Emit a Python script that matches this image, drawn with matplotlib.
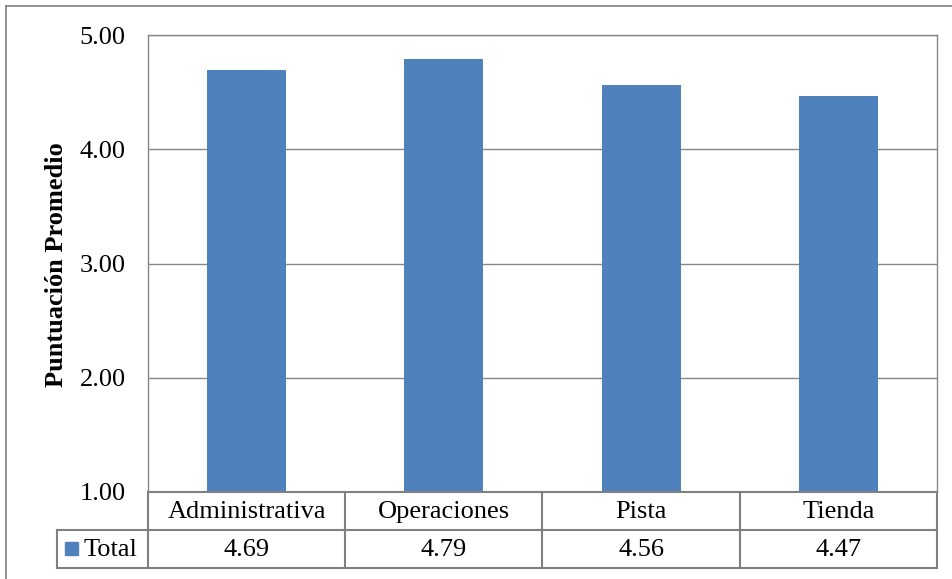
import numpy as np
import matplotlib.pyplot as plt
from matplotlib.lines import Line2D
from matplotlib.patches import Rectangle

categories = ['Administrativa', 'Operaciones', 'Pista', 'Tienda']
totals = [4.69, 4.79, 4.56, 4.47]
series_name = 'Total'
y_ticks = [1.0, 2.0, 3.0, 4.0, 5.0]

W, H = 953, 579
BAR_COLOR = '#4F81BD'
LINE_COLOR = '#868686'
FS = 19

plt.rcParams['font.family'] = ['Liberation Serif', 'DejaVu Serif']

fig = plt.figure(figsize=(W / 100, H / 100), dpi=100)


def fx(px):
    return px / W


def fy(py):
    return 1 - py / H


# plot area in pixels
left, right, top, bottom = 148, 937, 35, 492
ax = fig.add_axes([fx(left), fy(bottom), fx(right) - fx(left), fy(top) - fy(bottom)])

x = np.arange(len(categories))
ax.bar(x, totals, width=0.4, color=BAR_COLOR, zorder=3)
ax.set_xlim(-0.5, len(categories) - 0.5)
ax.set_ylim(y_ticks[0], y_ticks[-1])
ax.set_yticks(y_ticks)
ax.set_yticklabels(['%.2f' % t for t in y_ticks], fontsize=FS)
ax.tick_params(axis='y', length=0, pad=16)
ax.set_xticks([])
ax.yaxis.grid(True, color=LINE_COLOR, lw=1, zorder=0)
for s in ax.spines.values():
    s.set_color(LINE_COLOR)
    s.set_linewidth(1)
ax.spines['bottom'].set_visible(False)

# axis title placed in figure coordinates
fig.text(fx(57), fy((top + bottom) / 2 + 1), 'Puntuación Promedio', rotation=90,
         ha='center', va='center', fontsize=FS, fontweight='bold')

# data table underneath the plot area
row1, row2, row3 = 492, 530, 568
col_edges = np.linspace(left, right, len(categories) + 1)
tbl = dict(color='#808080', lw=1.5, transform=fig.transFigure)
fig.add_artist(Line2D([fx(left), fx(right)], [fy(row1)] * 2, **tbl))
fig.add_artist(Line2D([fx(57), fx(right)], [fy(row2)] * 2, **tbl))
fig.add_artist(Line2D([fx(57), fx(right)], [fy(row3)] * 2, **tbl))
fig.add_artist(Line2D([fx(57)] * 2, [fy(row2), fy(row3)], **tbl))
for c in col_edges:
    fig.add_artist(Line2D([fx(c)] * 2, [fy(row1), fy(row3)], **tbl))

for i, (cat, val) in enumerate(zip(categories, totals)):
    cx = fx((col_edges[i] + col_edges[i + 1]) / 2)
    fig.text(cx, fy((row1 + row2) / 2 + 1), cat, ha='center', va='center', fontsize=FS)
    fig.text(cx, fy((row2 + row3) / 2 + 1), '%.2f' % val, ha='center', va='center', fontsize=FS)

# legend key and series name
fig.add_artist(Rectangle((fx(65), fy(555)), fx(13), fy(542) - fy(555),
                         color=BAR_COLOR, transform=fig.transFigure))
fig.text(fx(84), fy((row2 + row3) / 2 + 1), series_name, ha='left', va='center', fontsize=FS)

# chart border
fig.add_artist(Line2D([fx(6), fx(6)], [fy(6), 0], color='#808080', lw=1.2, transform=fig.transFigure))
fig.add_artist(Line2D([fx(6), 1], [fy(6), fy(6)], color='#808080', lw=1.2, transform=fig.transFigure))

fig.savefig('out.png', dpi=100)
